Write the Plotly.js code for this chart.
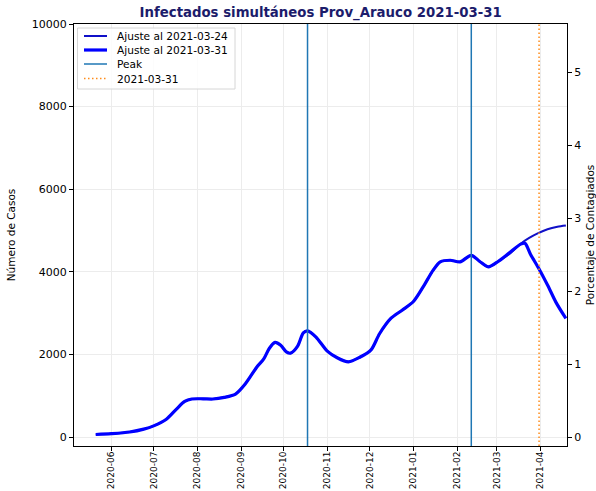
<!DOCTYPE html>
<html>
<head>
<meta charset="utf-8">
<script src="https://cdn.plot.ly/plotly-3.0.1.min.js"></script>
<style>html,body{margin:0;padding:0;background:#fff;}#chart{width:596px;height:491px;}</style>
</head>
<body>
<div id="chart"></div>
<script>
// Ajuste al 2021-03-31
const dates31 = ['2020-05-21','2020-06-01','2020-06-14','2020-06-24','2020-07-01','2020-07-10','2020-07-17','2020-07-23','2020-07-28','2020-08-05','2020-08-12','2020-08-20','2020-08-28','2020-09-04','2020-09-12','2020-09-17','2020-09-21','2020-09-25','2020-09-29','2020-10-03','2020-10-06','2020-10-11','2020-10-15','2020-10-18','2020-10-24','2020-11-01','2020-11-08','2020-11-16','2020-11-24','2020-12-02','2020-12-08','2020-12-16','2020-12-24','2021-01-01','2021-01-08','2021-01-15','2021-01-20','2021-01-27','2021-02-03','2021-02-11','2021-02-17','2021-02-23','2021-03-02','2021-03-10','2021-03-18','2021-03-21','2021-03-25','2021-03-31','2021-04-06','2021-04-12','2021-04-19'];
const values31 = [60,80,120,190,270,430,670,860,920,925,920,960,1040,1290,1690,1890,2150,2290,2220,2060,2030,2200,2520,2570,2420,2080,1920,1820,1930,2110,2500,2870,3070,3280,3640,4040,4240,4280,4240,4400,4250,4120,4250,4460,4670,4690,4420,4070,3680,3260,2870];
// Ajuste al 2021-03-24
const dates24 = ['2020-05-21','2020-06-01','2020-06-14','2020-06-24','2020-07-01','2020-07-10','2020-07-17','2020-07-23','2020-07-28','2020-08-05','2020-08-12','2020-08-20','2020-08-28','2020-09-04','2020-09-12','2020-09-17','2020-09-21','2020-09-25','2020-09-29','2020-10-03','2020-10-06','2020-10-11','2020-10-15','2020-10-18','2020-10-24','2020-11-01','2020-11-08','2020-11-16','2020-11-24','2020-12-02','2020-12-08','2020-12-16','2020-12-24','2021-01-01','2021-01-08','2021-01-15','2021-01-20','2021-01-27','2021-02-03','2021-02-11','2021-02-17','2021-02-23','2021-03-02','2021-03-10','2021-03-18','2021-03-24','2021-03-30','2021-04-06','2021-04-13','2021-04-19'];
const values24 = [60,80,120,190,270,430,670,860,920,925,920,960,1040,1290,1690,1890,2150,2290,2220,2060,2030,2200,2520,2570,2420,2080,1920,1820,1930,2110,2500,2870,3070,3280,3640,4040,4240,4280,4240,4400,4250,4120,4250,4430,4680,4820,4930,5030,5090,5120];
const peakDates = ['2020-10-18','2021-02-11'];
const cutDate = '2021-03-31';
const legendNames = ['Ajuste al 2021-03-24','Ajuste al 2021-03-31','Peak','2021-03-31'];
const yLeftTicks = [0,2000,4000,6000,8000,10000];
const yLeftTickText = ['0','2000','4000','6000','8000','10000'];
const yRightTicks = [0,1,2,3,4,5];

const yMin = -218, yMax = 10000;
const pMin = -0.123, pMax = 5.658;

const font = 'DejaVu Sans, sans-serif';
const styles = [
  {color:'#1010c8', width:2},
  {color:'#0000ff', width:3.2},
  {color:'#1f77b4', width:1.5},
  {color:'#ff8c1a', width:1.5, dash:'1.5px,2.5px'}
];
const traces = [
  {x: dates24, y: values24, type:'scatter', mode:'lines', name: legendNames[0],
   line:Object.assign({shape:'spline', smoothing:0.8}, styles[0])},
  {x: dates31, y: values31, type:'scatter', mode:'lines', name: legendNames[1],
   line:Object.assign({shape:'spline', smoothing:0.8}, styles[1])},
];
peakDates.forEach((d,i)=>{
  traces.push({x:[d,d], y:[yMin,yMax], type:'scatter', mode:'lines', name: legendNames[2],
    line:styles[2], hoverinfo:'skip'});
});
traces.push({x:[cutDate,cutDate], y:[yMin,yMax], type:'scatter', mode:'lines', name: legendNames[3],
  line:styles[3], hoverinfo:'skip'});
traces.push({x:[], y:[], yaxis:'y2', type:'scatter', mode:'lines'});

// legend drawn in pixel space of the figure (paper coordinates)
const W = 596, H = 491, mL = 74, mR = 29, mT = 24, mB = 45;
const pw = W - mL - mR, ph = H - mT - mB;
const px = v => (v - mL) / pw;
const py = v => (H - mB - v) / ph;
const shapes = [{type:'rect', xref:'paper', yref:'paper', x0:px(77.5), x1:px(235), y0:py(28), y1:py(89),
  fillcolor:'rgba(255,255,255,0.85)', line:{color:'#d6d6d6', width:1}, layer:'above'}];
const annotations = [];
const rowY = [36, 50, 64, 78.5];
legendNames.forEach((n,i)=>{
  shapes.push({type:'line', xref:'paper', yref:'paper', x0:px(84), x1:px(107), y0:py(rowY[i]), y1:py(rowY[i]),
    line:styles[i], layer:'above'});
  annotations.push({xref:'paper', yref:'paper', x:px(115), y:py(rowY[i]), xanchor:'left', yanchor:'middle',
    text:n, showarrow:false, font:{family:font, size:10.6, color:'#000'}});
});

const layout = {
  width:W, height:H,
  margin:{l:mL, r:mR, t:mT, b:mB},
  paper_bgcolor:'#fff', plot_bgcolor:'#fff',
  font:{family:font, size:11, color:'#000'},
  showlegend:false,
  title:{text:'Infectados simultáneos Prov_Arauco 2021-03-31', x:0.538, xanchor:'center', y:0.975, yanchor:'middle',
    font:{family:font, size:13.3, color:'#1c1c6b', weight:'bold'}},
  xaxis:{type:'date', range:['2020-05-05 14:00','2021-04-19 19:00'], dtick:'M1', tick0:'2020-06-01',
    tickformat:'%Y-%m', tickangle:-90, ticks:'outside', ticklen:4, tickcolor:'#000',
    ticklabelstandoff:-3,
    showline:true, linecolor:'#000', linewidth:1, mirror:true,
    showgrid:true, gridcolor:'#ececec', gridwidth:1, zeroline:false,
    tickfont:{family:font, size:9, color:'#000'}},
  yaxis:{range:[yMin,yMax], tickvals:yLeftTicks, ticktext:yLeftTickText, ticks:'outside', ticklen:4, tickcolor:'#000',
    showline:true, linecolor:'#000', linewidth:1, mirror:true,
    showgrid:true, gridcolor:'#ececec', zeroline:false,
    tickfont:{family:font, size:11, color:'#000'},
    title:{text:'Número de Casos', font:{family:font, size:10.5, color:'#000'}, standoff:14}},
  yaxis2:{overlaying:'y', side:'right', range:[pMin,pMax], tickvals:yRightTicks,
    ticks:'outside', ticklen:4, tickcolor:'#000', showline:true, linecolor:'#000', linewidth:1,
    showgrid:false, zeroline:false,
    tickfont:{family:font, size:11, color:'#000'},
    title:{text:'Porcentaje de Contagiados', font:{family:font, size:10.5, color:'#000'}, standoff:8}},
  shapes: shapes,
  annotations: annotations
};
Plotly.newPlot('chart', traces, layout, {displayModeBar:false, staticPlot:true});
</script>
</body>
</html>
